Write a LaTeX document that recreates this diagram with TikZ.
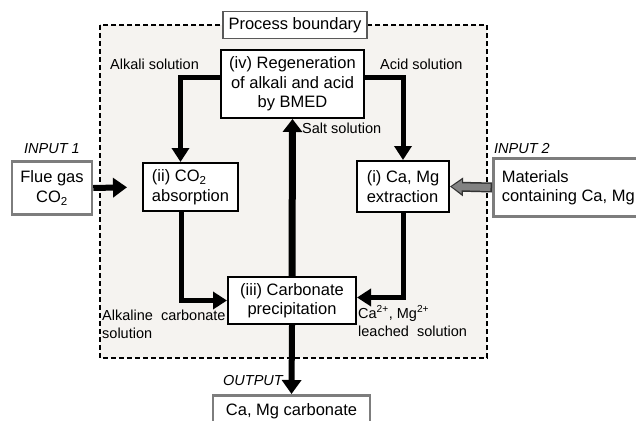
\documentclass[tikz,border=0pt]{standalone}
\usepackage{fontspec}
\setmainfont{Liberation Sans}
\usetikzlibrary{arrows.meta, positioning, calc}
\definecolor{boundfill}{RGB}{245,243,240}
\definecolor{framegray}{RGB}{125,125,125}
\definecolor{feedgray}{RGB}{130,130,130}

\begin{document}
\begin{tikzpicture}[x=1pt, y=-1pt,
        stepbox/.style={rectangle, draw=black, line width=2pt, fill=white, align=center, inner sep=2pt, font=\fontsize{16.5}{19.5}\selectfont},
        iobox/.style={stepbox, draw=framegray, line width=2.5pt},
        flowlabel/.style={inner sep=0pt, align=left, font=\fontsize{14.5}{18}\selectfont},
        iolabel/.style={inner sep=0pt, font=\fontsize{14.5}{16}\selectfont\itshape},
        flow/.style={line width=5pt, -{Triangle[length=14pt, width=17pt]}}
    ]
        \useasboundingbox (0,0) rectangle (636,420);

        % process boundary
        \draw[dash pattern=on 5pt off 3pt, line width=1.3pt, fill=boundfill] (100,25) rectangle (487,358);
        \node[iobox, draw=black!65, line width=1.5pt, minimum width=144pt, minimum height=27pt] (boundary) at (295,25) {Process boundary};

        % process steps
        \node[stepbox, minimum width=143pt, minimum height=68pt] (regen) at (292.5,84) {(iv) Regeneration\\of alkali and acid\\by BMED};
        \node[stepbox, align=left, minimum width=95pt, minimum height=48pt] (absorb) at (190.5,187) {(ii) CO\textsubscript{2}\\absorption};
        \node[stepbox, align=left, minimum width=92pt, minimum height=51pt] (extract) at (403,186.5) {(i) Ca, Mg\\extraction};
        \node[stepbox, minimum width=128pt, minimum height=47pt] (precip) at (292,300.5) {(iii) Carbonate\\precipitation};

        % inputs and output
        \node[iobox, minimum width=80pt, minimum height=53pt] (flue) at (52,188) {Flue gas\\CO\textsubscript{2}};
        \node[iobox, align=left, anchor=west, minimum width=150pt, minimum height=58pt] (material) at (492,187.5) {Materials\\containing Ca, Mg};
        \node[iobox, anchor=north, minimum width=157pt, minimum height=40pt, text depth=12pt] (product) at (291.5,394) {Ca, Mg carbonate};

        \node[iolabel, above=6pt of flue] (input1) {INPUT 1};
        \node[iolabel, anchor=west] (input2) at (494,149) {INPUT 2};
        \node[iolabel, anchor=east] (output) at (283,381) {OUTPUT};

        % flows
        \draw[flow] ([yshift=7pt]regen.west) -| ([xshift=-10pt]absorb.north);
        \draw[flow] ([yshift=7pt]regen.east) -| (extract.north);
        \draw[flow] ([xshift=-9pt]absorb.south) |- (precip.west);
        \draw[flow] (extract.south) |- ([yshift=3pt]precip.east);
        \draw[flow, line width=7pt, -{Triangle[length=13pt, width=19pt]}] (precip.north) -- (regen.south);
        \draw[flow, line width=6pt, -{Triangle[length=14pt, width=19pt]}] (precip.south) -- (product.north);
        \draw[flow, line width=6pt, shorten >=15pt, -{Triangle[length=14pt, width=19pt]}] (flue.east) -- (absorb.west);
        \draw[line width=10pt, black!80, -{Triangle[length=13pt, width=18pt]}] (material.west) -- (extract.east);
        \draw[line width=7pt, feedgray, shorten >=1.8pt, -{Triangle[length=10pt, width=13pt]}] ([xshift=-1.5pt]material.west) -- (extract.east);

        % stream labels
        \node[flowlabel, anchor=west] (alkali) at (110,64) {Alkali solution};
        \node[flowlabel, anchor=west] (acid) at (380,64) {Acid solution};
        \node[flowlabel, anchor=west] (salt) at (302,128) {Salt solution};
        \node[flowlabel, anchor=west] (carbsol) at (102,324) {Alkaline\ \ carbonate\\solution};
        \node[flowlabel, anchor=west] (leached) at (358,321) {Ca\textsuperscript{2+}, Mg\textsuperscript{2+}\\leached\ \ solution};
    \end{tikzpicture}
\end{document}
